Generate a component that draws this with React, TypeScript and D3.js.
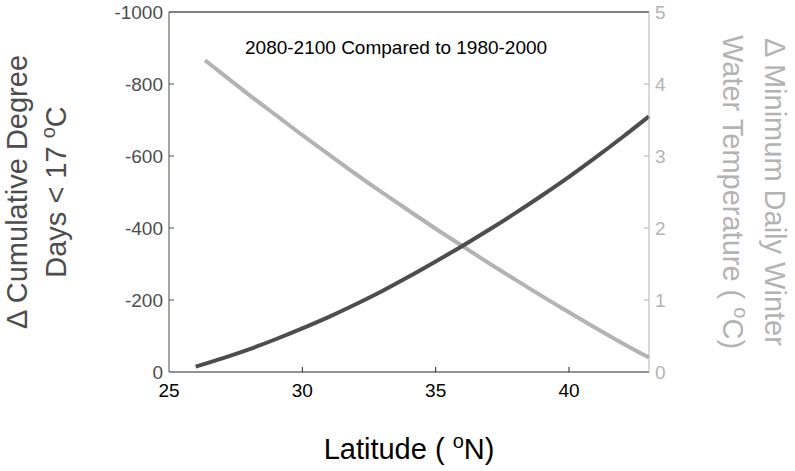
import React from "react";
import * as d3 from "d3";

const latitudes = [26, 27, 28, 29, 30, 31, 32, 33, 34, 35, 36, 37, 38, 39, 40, 41, 42, 43];
const degreeDays = [-15, -38, -63, -91, -121, -153, -188, -225, -265, -307, -350, -395, -442, -491, -542, -596, -652, -710];
const tempLatitudes = [26.35, 27, 28, 29, 30, 31, 32, 33, 34, 35, 36, 37, 38, 39, 40, 41, 42, 43];
const winterTemp = [4.33, 4.14, 3.85, 3.57, 3.29, 3.02, 2.75, 2.49, 2.24, 1.99, 1.75, 1.51, 1.28, 1.05, 0.83, 0.61, 0.4, 0.2];
const xTicks = [25, 30, 35, 40];
const leftTicks = [0, -200, -400, -600, -800, -1000];
const rightTicks = [0, 1, 2, 3, 4, 5];

const W = 795, H = 471;
const L = 169, R = 649, T = 12, B = 372;
const DARK = "#4d4d4d";
const LIGHT = "#b3b3b3";
const FONT = "'Liberation Sans', Arial, sans-serif";
const TICK_FS = 19;
const LABEL_FS = 29;
const SUP_FS = 20;

export default function App() {
  const x = d3.scaleLinear().domain([25, 43]).range([L, R]);
  const yL = d3.scaleLinear().domain([0, -1000]).range([B, T]);
  const yR = d3.scaleLinear().domain([0, 5]).range([B, T]);
  const lineDark = d3.line<number>().x((_, i) => x(latitudes[i])).y((d) => yL(d)).curve(d3.curveMonotoneX);
  const lineLight = d3.line<number>().x((_, i) => x(tempLatitudes[i])).y((d) => yR(d)).curve(d3.curveMonotoneX);
  const tk = 5;
  const midY = (T + B) / 2;
  return (
    <svg width={W} height={H} style={{ position: "absolute", left: 0, top: 0, background: "#fff" }} fontFamily={FONT}>
      <rect x={0} y={0} width={W} height={H} fill="#fff" />
      {/* lines */}
      <path d={lineLight(winterTemp) || ""} fill="none" stroke={LIGHT} strokeWidth={4} />
      <path d={lineDark(degreeDays) || ""} fill="none" stroke={DARK} strokeWidth={4} />
      {/* box */}
      <line x1={L} x2={R} y1={T} y2={T} stroke="#000" strokeWidth={1} />
      <line x1={L} x2={R} y1={B} y2={B} stroke="#262626" strokeWidth={1} />
      <line x1={L} x2={L} y1={T} y2={B} stroke={DARK} strokeWidth={1} />
      <line x1={R} x2={R} y1={T} y2={B} stroke={LIGHT} strokeWidth={1} />
      {/* x ticks */}
      {xTicks.map((t) => (
        <g key={"x" + t}>
          {t !== 25 && <line x1={x(t)} x2={x(t)} y1={B} y2={B - tk} stroke="#262626" />}
          <text x={x(t)} y={B + 25} textAnchor="middle" fontSize={TICK_FS} fill="#000">{t}</text>
        </g>
      ))}
      {/* left ticks */}
      {leftTicks.map((t) => (
        <g key={"l" + t}>
          {t !== 0 && t !== -1000 && <line x1={L} x2={L + tk} y1={yL(t)} y2={yL(t)} stroke={DARK} />}
          <text x={L - 6} y={yL(t) + 7} textAnchor="end" fontSize={TICK_FS} fill={DARK}>{t}</text>
        </g>
      ))}
      {/* right ticks */}
      {rightTicks.map((t) => (
        <g key={"r" + t}>
          {t !== 0 && t !== 5 && <line x1={R} x2={R - tk} y1={yR(t)} y2={yR(t)} stroke={LIGHT} />}
          <text x={R + 6} y={yR(t) + 7} textAnchor="start" fontSize={TICK_FS} fill={LIGHT}>{t}</text>
        </g>
      ))}
      {/* title */}
      <text x={245} y={54} fontSize={19} fill="#000">2080-2100 Compared to 1980-2000</text>
      {/* x label */}
      <text x={(L + R) / 2} y={459} textAnchor="middle" fontSize={LABEL_FS} fill="#000">
        Latitude ( <tspan dy={-11} fontSize={SUP_FS}>o</tspan><tspan dy={11}>N)</tspan>
      </text>
      {/* left y label */}
      <g transform={`translate(27, ${midY}) rotate(-90)`}>
        <text x={0} y={0} textAnchor="middle" fontSize={LABEL_FS} fill={DARK}>Δ Cumulative Degree</text>
      </g>
      <g transform={`translate(66, ${midY}) rotate(-90)`}>
        <text x={0} y={0} textAnchor="middle" fontSize={LABEL_FS} fill={DARK}>
          Days &lt; 17 <tspan dy={-11} fontSize={SUP_FS}>o</tspan><tspan dy={11}>C</tspan>
        </text>
      </g>
      {/* right y label */}
      <g transform={`translate(765, ${midY}) rotate(90)`}>
        <text x={0} y={0} textAnchor="middle" fontSize={LABEL_FS} fill={LIGHT}>Δ Minimum Daily Winter</text>
      </g>
      <g transform={`translate(723, ${midY}) rotate(90)`}>
        <text x={0} y={0} textAnchor="middle" fontSize={LABEL_FS} fill={LIGHT}>
          Water Temperature ( <tspan dy={-11} fontSize={SUP_FS}>o</tspan><tspan dy={11}>C)</tspan>
        </text>
      </g>
    </svg>
  );
}
